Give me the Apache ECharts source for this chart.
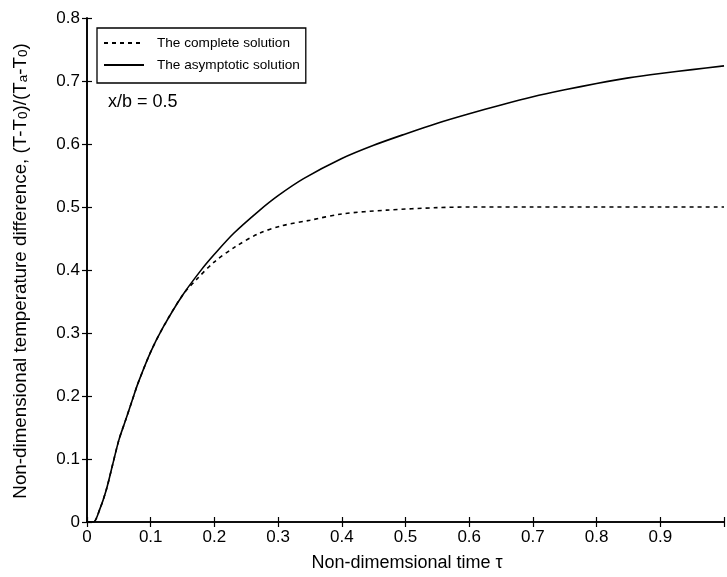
<!DOCTYPE html>
<html>
<head>
<meta charset="utf-8">
<script src="https://cdn.jsdelivr.net/npm/echarts@6/dist/echarts.min.js"></script>
<style>html,body{margin:0;padding:0;background:#fff}#c{width:727px;height:577px}</style>
</head>
<body>
<div id="c"></div>
<script>
// Data
const tauSolid = [0, 0.01, 0.02, 0.03, 0.04, 0.05, 0.06, 0.07, 0.08, 0.10, 0.12, 0.15, 0.18, 0.20, 0.23, 0.27, 0.30, 0.34, 0.40, 0.45, 0.50, 0.55, 0.60, 0.65, 0.70, 0.75, 0.80, 0.85, 0.90, 0.95, 1.00];
const valSolid = [0, 0, 0.02, 0.05, 0.09, 0.13, 0.16, 0.19, 0.22, 0.27, 0.31, 0.36, 0.401, 0.425, 0.458, 0.494, 0.518, 0.545, 0.577, 0.598, 0.616, 0.633, 0.648, 0.662, 0.675, 0.686, 0.696, 0.705, 0.712, 0.718, 0.724];
const tauDashed = [0, 0.01, 0.02, 0.03, 0.04, 0.05, 0.06, 0.07, 0.08, 0.10, 0.12, 0.15, 0.173, 0.20, 0.233, 0.27, 0.305, 0.35, 0.40, 0.47, 0.55, 0.60, 0.70, 0.80, 0.90, 1.00];
const valDashed = [0, 0, 0.02, 0.05, 0.09, 0.13, 0.16, 0.19, 0.22, 0.27, 0.31, 0.36, 0.386, 0.413, 0.437, 0.458, 0.470, 0.479, 0.489, 0.495, 0.499, 0.5, 0.5, 0.5, 0.5, 0.5];
const xTicks = ['0', '0.1', '0.2', '0.3', '0.4', '0.5', '0.6', '0.7', '0.8', '0.9', ''];
const yTicks = ['0', '0.1', '0.2', '0.3', '0.4', '0.5', '0.6', '0.7', '0.8'];
const seriesNames = ['The complete solution', 'The asymptotic solution'];

const pairs = (xs, ys) => xs.map((x, i) => [x, ys[i]]);
const FONT = 'Liberation Sans, Arial, sans-serif';
const chart = echarts.init(document.getElementById('c'), null, {renderer: 'canvas'});
const axisCommon = {
  axisLine: {show: true, lineStyle: {color: '#000', width: 1.6}},
  axisTick: {show: true, inside: true, length: 5, lineStyle: {color: '#000', width: 1.2}},
  splitLine: {show: false}
};
chart.setOption({
  animation: false,
  backgroundColor: '#fff',
  grid: {left: 87, top: 18, width: 643, height: 504, containLabel: false},
  xAxis: [
    Object.assign({type: 'value', min: 0, max: 1, interval: 0.1, position: 'bottom',
      axisLabel: {color: '#000', fontSize: 17, fontFamily: FONT, margin: 7,
        formatter: (v) => xTicks[Math.round(v * 10)]}}, axisCommon),
    Object.assign({type: 'value', min: 0, max: 1, interval: 0.1, position: 'top',
      axisLabel: {show: false}}, axisCommon)
  ],
  yAxis: [
    Object.assign({type: 'value', min: 0, max: 0.8, interval: 0.1, position: 'left',
      axisLabel: {color: '#000', fontSize: 17, fontFamily: FONT, margin: 7,
        formatter: (v) => yTicks[Math.round(v * 10)]}}, axisCommon),
    Object.assign({type: 'value', min: 0, max: 0.8, interval: 0.1, position: 'right',
      axisLabel: {show: false}}, axisCommon)
  ],
  legend: {
    orient: 'vertical', left: 97, top: 28,
    data: seriesNames,
    itemWidth: 40, itemHeight: 14, itemGap: 8,
    itemStyle: {opacity: 0, borderWidth: 0},
    borderColor: '#000', borderWidth: 1.3, padding: [8, 6, 11, 6],
    backgroundColor: '#fff',
    textStyle: {color: '#000', fontSize: 13.6, fontFamily: FONT, padding: [0, 0, 0, 8]}
  },
  series: [
    {name: seriesNames[0], type: 'line', data: pairs(tauDashed, valDashed), symbol: 'none',
     smooth: 0.3, lineStyle: {color: '#000', width: 1.6, type: [4, 4]}, itemStyle: {color: '#000'}},
    {name: seriesNames[1], type: 'line', data: pairs(tauSolid, valSolid), symbol: 'none',
     smooth: 0.3, lineStyle: {color: '#000', width: 1.6, type: 'solid'}, itemStyle: {color: '#000'}}
  ],
  graphic: [
    {type: 'text', x: 108, y: 102, style: {text: 'x/b = 0.5', fill: '#000', font: '18px ' + FONT, verticalAlign: 'middle'}},
    {type: 'text', x: 407, y: 563, style: {text: 'Non-dimemsional time τ', fill: '#000', font: '18px ' + FONT, align: 'center', verticalAlign: 'middle'}},
    {type: 'text', x: 20, y: 271, rotation: Math.PI / 2,
     style: {
       text: '{n|Non-dimensional temperature difference, (T-T}{s|0}{n|)/(T}{s|a}{n|-T}{s|0}{n|)}',
       align: 'center', verticalAlign: 'middle',
       rich: {
         n: {fontSize: 18.8, fontFamily: FONT, fill: '#000', color: '#000', verticalAlign: 'bottom'},
         s: {fontSize: 13.5, fontFamily: FONT, fill: '#000', color: '#000', padding: [7, 0, 0, 0], verticalAlign: 'bottom'}
       }
     }}
  ]
});
</script>
</body>
</html>
